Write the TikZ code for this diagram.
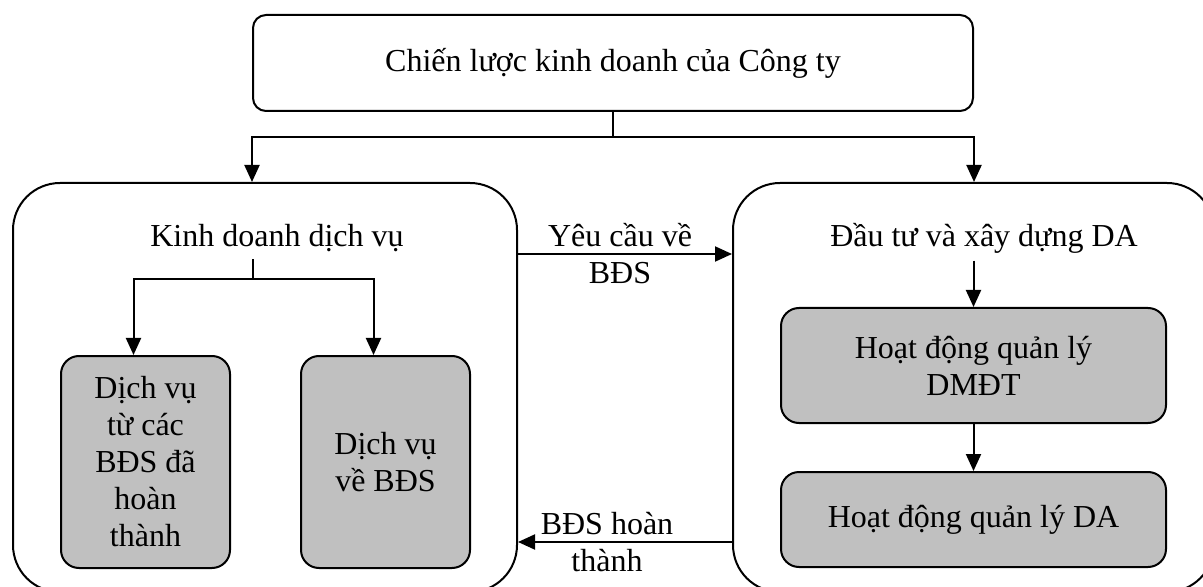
\documentclass[tikz,border=0pt]{standalone}
\usepackage{fontspec}
\setmainfont{Liberation Serif}
\usepackage{tikz}
\usetikzlibrary{arrows.meta,positioning,calc}
\definecolor{boxgray}{RGB}{192,192,192}

\begin{document}
\begin{tikzpicture}[x=0.5pt,y=-0.5pt,font=\fontsize{16}{18.5}\selectfont,line width=1pt]
\tikzset{big/.style={draw,rounded corners=23.5pt,minimum height=204.5pt},
  g/.style={draw,fill=boxgray,rounded corners=9pt,align=center},
  arr/.style={-{Triangle[length=8.5pt,width=7.5pt]}}}
\useasboundingbox (0,0) rectangle (1203,587);
\node[draw,rounded corners=6.5pt,minimum width=360pt,minimum height=48pt] (cl) at (613,63) {Chiến lược kinh doanh của Công ty};
\node[big,minimum width=252pt] (kd) at (265,387.5) {};
\node[big,minimum width=240.5pt] (rd) at (973.5,387.5) {};
\node (kdl) at (277,238) {Kinh doanh dịch vụ};
\node (dtl) at (984,238) {Đầu tư và xây dựng DA};
\node[g,minimum width=84.5pt,minimum height=106pt] (dvA) at (145.5,462) {Dịch vụ\\từ các\\BĐS đã\\hoàn\\thành};
\node[g,minimum width=84.5pt,minimum height=106pt] (dvB) at (385.5,462) {Dịch vụ\\về BĐS};
\node[g,minimum width=192.5pt,minimum height=57.5pt] (dm) at (973.5,365.5) {Hoạt động quản lý\\DMĐT};
\node[g,minimum width=192.5pt,minimum height=47.5pt] (da) at (973.5,519.5) {Hoạt động quản lý DA};
% top branch
\draw (cl.south) -- ++(0,25) coordinate (clj);
\draw[arr] (clj) -| (cl.west |- kd.north);
\draw[arr] (clj) -| (cl.east |- rd.north);
% left branch
\coordinate (kdj) at (253,279);
\draw (kdl.south -| kdj) -- (kdj);
\draw[arr] (kdj) -| ([xshift=-6pt]dvA.north);
\draw[arr] (kdj) -| ([xshift=-6pt]dvB.north);
% right chain
\draw[arr] (dtl.south -| dm.north) -- (dm.north);
\draw[arr] (dm) -- (da);
% between the two blocks
\path (kd.north east) ++(0,72) coordinate (yc);
\draw[arr] (yc) -- (yc -| rd.west) node[midway,align=center,xshift=-2.5pt] {Yêu cầu về\\BĐS};
\path (rd.north west) ++(0,360) coordinate (ht);
\draw[arr] (ht) -- (ht -| kd.east) node[midway,align=center,xshift=-9pt] {BĐS hoàn\\thành};
\end{tikzpicture}
\end{document}
